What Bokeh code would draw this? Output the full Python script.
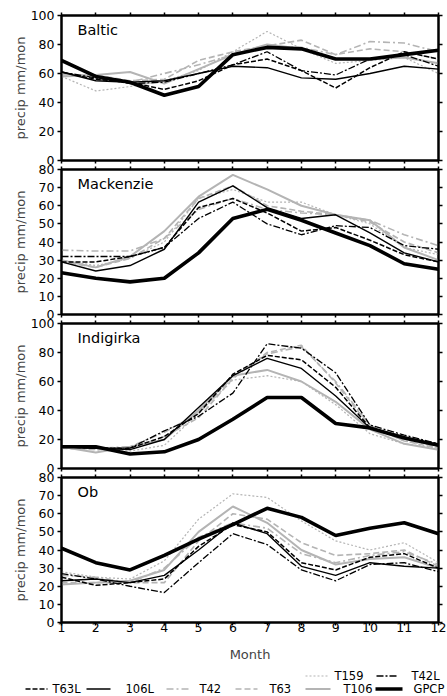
from bokeh.plotting import figure
from bokeh.layouts import column
from bokeh.models import Range1d, FixedTicker, LinearAxis, Label
from bokeh.embed import file_html
from bokeh.resources import INLINE
from bokeh.core.properties import value

# ---------------- data ----------------
months = list(range(1, 13))
series_names = ["T159", "T42L", "T63L", "106L", "T42", "T63", "T106", "GPCP"]
region_names = ["Baltic", "Mackenzie", "Indigirka", "Ob"]
region_ymax = [100, 80, 100, 80]
region_ystep = [20, 10, 20, 10]

baltic_T159 = [58, 48, 51, 55, 62, 75, 89, 77, 67, 69, 71, 60]
baltic_T42L = [61, 57, 53, 54, 60, 66, 75, 62, 59, 70, 73, 65]
baltic_T63L = [61, 56, 54, 49, 55, 66, 70, 62, 50, 64, 75, 70]
baltic_106L = [61, 55, 54, 55, 60, 65, 64, 57, 56, 60, 65, 63]
baltic_T42 = [60, 57, 54, 60, 66, 73, 79, 78, 73, 82, 81, 75]
baltic_T63 = [59, 59, 55, 56, 69, 75, 79, 83, 73, 77, 75, 70]
baltic_T106 = [58, 59, 61, 53, 63, 73, 80, 77, 70, 70, 71, 67]
baltic_GPCP = [69, 58, 54, 45, 51, 73, 78, 77, 70, 70, 73, 76]

mackenzie_T159 = [30, 27, 31, 40, 64, 69, 62, 62, 55, 50, 37, 33]
mackenzie_T42L = [32, 32, 32, 37, 53, 62, 50, 44, 49, 48, 38, 36]
mackenzie_T63L = [29, 29, 32, 37, 59, 64, 56, 46, 48, 41, 33, 29]
mackenzie_106L = [29, 24, 27, 36, 62, 71, 59, 53, 55, 45, 34, 29]
mackenzie_T42 = [35.5, 35, 35, 42, 58, 64, 58, 56, 55, 52, 44, 38]
mackenzie_T63 = [29, 26, 31, 42, 64, 71, 60, 57, 55, 51, 40, 34]
mackenzie_T106 = [30, 26, 32, 46, 65, 77, 69, 60, 55, 52, 37, 30]
mackenzie_GPCP = [23, 20, 18, 20, 34, 53, 58, 52, 45, 38, 28, 25]

indigirka_T159 = [15, 13, 12, 16, 38, 61, 64, 60, 44, 24, 17, 14]
indigirka_T42L = [15, 14, 14, 26, 36, 52, 86, 83, 66, 30, 23, 17]
indigirka_T63L = [15, 14, 14, 22, 38, 65, 78, 75, 56, 28, 21, 17]
indigirka_106L = [15, 14, 13, 20, 42, 64, 76, 69, 50, 28, 22, 16]
indigirka_T42 = [14, 14, 15, 25, 38, 63, 79, 84, 60, 30, 19, 15]
indigirka_T63 = [14, 13, 14, 22, 35, 62, 80, 85, 59, 29, 19, 14]
indigirka_T106 = [15, 11, 15, 20, 40, 64, 68, 60, 46, 27, 17, 13]
indigirka_GPCP = [15, 15, 10, 11.5, 20, 34, 49, 49, 31, 28, 21, 16]

ob_T159 = [28, 25, 24, 34, 57, 71, 69, 56, 45, 40, 44, 33]
ob_T42L = [27, 24, 20, 16.5, 33, 49, 43, 29, 23, 32, 33, 28]
ob_T63L = [25, 20.5, 22, 24, 42, 54, 50, 33, 29, 36, 38, 30]
ob_106L = [23, 24, 22, 26, 40, 55, 49, 31, 26, 33, 31, 30]
ob_T42 = [26, 25, 22, 30, 47, 55, 52, 38, 33, 37, 39, 32]
ob_T63 = [22, 22, 22, 22, 45, 60, 57, 44, 37, 38, 40, 31]
ob_T106 = [21, 22, 23, 29, 50, 64, 55, 40, 32, 35, 36, 30]
ob_GPCP = [41, 33, 29, 37, 46, 54, 63, 58, 48, 52, 55, 49]

region_data = {
    "Baltic": dict(zip(series_names, [baltic_T159, baltic_T42L, baltic_T63L, baltic_106L,
                                      baltic_T42, baltic_T63, baltic_T106, baltic_GPCP])),
    "Mackenzie": dict(zip(series_names, [mackenzie_T159, mackenzie_T42L, mackenzie_T63L, mackenzie_106L,
                                         mackenzie_T42, mackenzie_T63, mackenzie_T106, mackenzie_GPCP])),
    "Indigirka": dict(zip(series_names, [indigirka_T159, indigirka_T42L, indigirka_T63L, indigirka_106L,
                                         indigirka_T42, indigirka_T63, indigirka_T106, indigirka_GPCP])),
    "Ob": dict(zip(series_names, [ob_T159, ob_T42L, ob_T63L, ob_106L,
                                  ob_T42, ob_T63, ob_T106, ob_GPCP])),
}

# ---------------- styles ----------------
FONT = "DejaVu Sans"
GRAY = "#b4b4b4"
styles = {
    "T159": dict(line_color=GRAY, line_width=1.2, line_dash="2 2"),
    "T42L": dict(line_color="black", line_width=1.3, line_dash="7 2 2 2"),
    "T63L": dict(line_color="black", line_width=1.5, line_dash="5 2"),
    "106L": dict(line_color="black", line_width=1.4, line_dash="solid"),
    "T42": dict(line_color=GRAY, line_width=1.6, line_dash="7 3 2 3"),
    "T63": dict(line_color=GRAY, line_width=1.6, line_dash="6 3"),
    "T106": dict(line_color=GRAY, line_width=2.0, line_dash="solid"),
    "GPCP": dict(line_color="black", line_width=3.6, line_dash="solid"),
}
draw_order = ["T159", "T42", "T63", "T106", "T42L", "T63L", "106L", "GPCP"]

FRAME_H = 145
GAP = 9
W = 447


def style_axis(ax, ticks, labels=True, tick_out=4):
    ax.ticker = FixedTicker(ticks=ticks)
    ax.axis_line_width = 2
    ax.axis_line_color = "black"
    ax.major_tick_line_width = 1.5
    ax.major_tick_line_color = "black"
    ax.major_tick_out = tick_out
    ax.major_tick_in = 0
    ax.minor_tick_out = 0
    ax.minor_tick_in = 0
    ax.major_label_text_font = FONT
    ax.major_label_text_font_size = "12.5px"
    ax.major_label_text_color = "black"
    if not labels:
        ax.major_label_overrides = {t: "" for t in ticks}
        ax.major_label_text_font_size = "1px"
        ax.major_label_standoff = 0


def make_panel(name, ymax, ystep, top, bottom, last, margin_top):
    p = figure(width=W, height=top + FRAME_H + bottom,
               x_range=Range1d(1, 12), y_range=Range1d(0, ymax),
               output_backend="svg", toolbar_location=None,
               min_border_left=61, min_border_right=9,
               min_border_top=top, min_border_bottom=bottom,
               margin=(margin_top, 0, 0, 0))
    p.grid.visible = False
    p.outline_line_color = "black"
    p.outline_line_width = 2
    p.background_fill_color = "white"
    p.border_fill_color = None
    yt = list(range(0, ymax + 1, ystep))

    xa = p.xaxis[0]
    style_axis(xa, months, labels=last, tick_out=3)
    if last:
        xa.major_label_standoff = -3
        xa.axis_label = "Month"
        xa.axis_label_text_font = FONT
        xa.axis_label_text_font_size = "13px"
        xa.axis_label_text_font_style = "normal"
        xa.axis_label_standoff = 12

    ya = p.yaxis[0]
    style_axis(ya, yt, tick_out=4)
    ya.major_label_standoff = 3
    ya.axis_label = "precip mm/mon"
    ya.axis_label_text_font = FONT
    ya.axis_label_text_font_size = "13px"
    ya.axis_label_text_font_style = "normal"
    ya.axis_label_standoff = 0 if ymax == 100 else 8

    top_ax = LinearAxis()
    style_axis(top_ax, months, labels=False, tick_out=3)
    p.add_layout(top_ax, "above")
    right_ax = LinearAxis()
    style_axis(right_ax, yt, labels=False, tick_out=4)
    p.add_layout(right_ax, "right")

    data = region_data[name]
    for s in draw_order:
        p.line(months, data[s], **styles[s])

    p.add_layout(Label(x=1, y=ymax, x_offset=16, y_offset=-14, text=name,
                       text_font=FONT, text_font_size="14.5px",
                       text_baseline="alphabetic", text_color="black"))
    return p


# borders large enough to hold the edge tick labels; neighbouring panels overlap
# (transparent borders) so that the frames are GAP pixels apart
PAD = 12
tops = [15, PAD, PAD, PAD]
bottoms = [PAD, PAD, PAD, 44]
margins = [0, -(2 * PAD - GAP), -(2 * PAD - GAP), -(2 * PAD - GAP)]
panels = []
for i, name in enumerate(region_names):
    panels.append(make_panel(name, region_ymax[i], region_ystep[i], tops[i], bottoms[i],
                             i == 3, margins[i]))

# ---------------- legend ----------------
LEG_H = 36
LEG_OVERLAP = 6
leg = figure(width=W, height=LEG_H, x_range=Range1d(0, W), y_range=Range1d(LEG_H, 0),
             output_backend="svg", toolbar_location=None,
             x_axis_type=None, y_axis_type=None,
             min_border=0, min_border_left=0, min_border_right=0,
             min_border_top=0, min_border_bottom=0,
             margin=(-LEG_OVERLAP, 0, 0, 0))
if "frame_align" in leg.properties():
    leg.frame_align = False
leg.grid.visible = False
leg.outline_line_color = None
leg.border_fill_color = None
leg.background_fill_color = None
ROW1, ROW2 = 15.5, 28.5
legend_layout = {  # name: (line x0, line x1, text x, row y)
    "T159": (305, 328, 334, ROW1),
    "T42L": (376, 398, 411, ROW1),
    "T63L": (25, 47, 52, ROW2),
    "106L": (86, 110, 125, ROW2),
    "T42": (166, 188, 199, ROW2),
    "T63": (235, 257, 269, ROW2),
    "T106": (305, 330, 343, ROW2),
    "GPCP": (375, 402, 413, ROW2),
}
for s in series_names:
    x0, x1, tx, ry = legend_layout[s]
    leg.line([x0, x1], [ry, ry], **styles[s])
    leg.text(x=[tx], y=[ry], text=[s], text_font=value(FONT), text_font_size="11.5px",
             text_baseline="middle", text_align="left", text_color="black")

layout = column(*panels, leg, spacing=0)
open("out.html", "w").write(file_html(layout, INLINE))
